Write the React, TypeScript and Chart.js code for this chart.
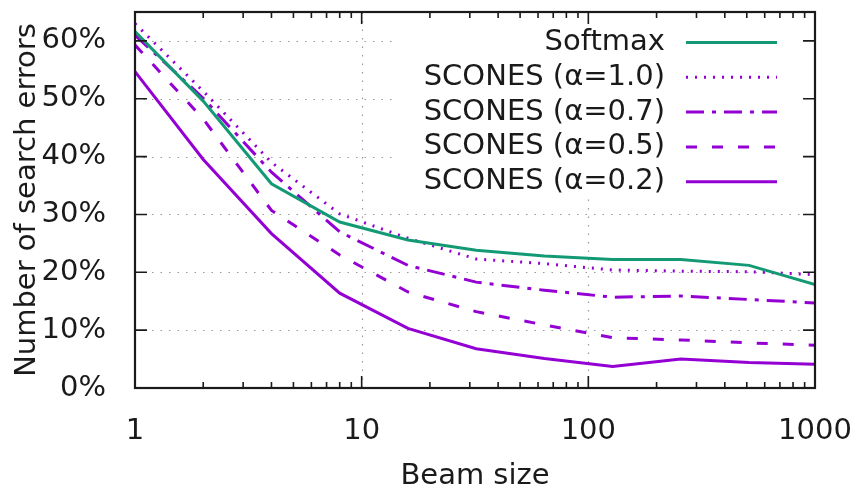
import React, { useEffect, useRef } from 'react';
import { Chart, registerables } from 'chart.js';

Chart.register(...registerables);

// ---- data ----
const BEAM_SIZES = [1, 2, 4, 8, 16, 32, 64, 128, 256, 512, 1000];
const SOFTMAX = [61.6, 49.6, 35.3, 28.7, 25.6, 23.8, 22.8, 22.2, 22.2, 21.2, 17.9];
const SCONES_A10 = [63.0, 51.3, 39.0, 30.1, 25.9, 22.3, 21.5, 20.4, 20.2, 20.1, 19.6];
const SCONES_A07 = [61.0, 50.1, 37.3, 27.0, 21.2, 18.3, 16.9, 15.7, 15.9, 15.3, 14.7];
const SCONES_A05 = [59.3, 46.5, 30.7, 23.0, 16.6, 13.2, 10.9, 8.7, 8.3, 7.8, 7.4];
const SCONES_A02 = [54.7, 39.5, 26.7, 16.4, 10.3, 6.8, 5.1, 3.7, 5.0, 4.4, 4.1];
const SERIES_LABELS = ['Softmax', 'SCONES (α=1.0)', 'SCONES (α=0.7)', 'SCONES (α=0.5)', 'SCONES (α=0.2)'];
const SERIES_VALUES = [SOFTMAX, SCONES_A10, SCONES_A07, SCONES_A05, SCONES_A02];
const X_TICKS = [1, 10, 100, 1000];
const Y_TICKS = [0, 10, 20, 30, 40, 50, 60];
const X_TITLE = 'Beam size';
const Y_TITLE = 'Number of search errors';

// ---- styles ----
const GREEN = '#139a74';
const PURPLE = '#9400d3';
const SERIES_STYLES = [
  { color: GREEN, dash: [] as number[] },
  { color: PURPLE, dash: [2, 7] },
  { color: PURPLE, dash: [18, 8, 4, 8] },
  { color: PURPLE, dash: [11, 15] },
  { color: PURPLE, dash: [] as number[] },
];
const FONT = "'DejaVu Sans', sans-serif";
const TEXT = '#1a1a1a';
const X_MIN = 1, X_MAX = 1000, Y_MIN = 0, Y_MAX = 65;
const LEGEND = { textRight: 665, lineStart: 686, lineEnd: 777, firstY: 42.5, step: 34.8, boxLeft: 397, boxBottom: 197 };

const framePlugin = {
  id: 'gnuFrame',
  beforeDatasetsDraw(chart: any) {
    const { ctx, chartArea: a, scales } = chart;
    const x = scales.x, y = scales.y;
    ctx.save();
    ctx.strokeStyle = '#9a9a9a';
    ctx.lineWidth = 1.2;
    ctx.setLineDash([1.5, 7]);
    ctx.beginPath();
    Y_TICKS.forEach((v) => {
      if (v <= Y_MIN) return;
      const py = Math.round(y.getPixelForValue(v)) + 0.5;
      ctx.moveTo(a.left, py);
      ctx.lineTo(a.right, py);
    });
    X_TICKS.forEach((v) => {
      if (v <= X_MIN || v >= X_MAX) return;
      const px = Math.round(x.getPixelForValue(v)) + 0.5;
      ctx.moveTo(px, a.bottom);
      ctx.lineTo(px, a.top);
    });
    ctx.stroke();
    ctx.setLineDash([]);
    ctx.fillStyle = '#ffffff';
    ctx.fillRect(LEGEND.boxLeft, a.top, a.right - LEGEND.boxLeft, LEGEND.boxBottom - a.top);
    ctx.restore();
  },
  afterDatasetsDraw(chart: any) {
    const { ctx, chartArea: a, scales } = chart;
    const x = scales.x, y = scales.y;
    ctx.save();
    ctx.strokeStyle = TEXT;
    ctx.lineWidth = 1.6;
    ctx.beginPath();
    const major = 12, minor = 6;
    Y_TICKS.forEach((v) => {
      const py = y.getPixelForValue(v);
      ctx.moveTo(a.left, py); ctx.lineTo(a.left + major, py);
      ctx.moveTo(a.right, py); ctx.lineTo(a.right - major, py);
    });
    X_TICKS.forEach((v) => {
      const px = x.getPixelForValue(v);
      ctx.moveTo(px, a.bottom); ctx.lineTo(px, a.bottom - major);
      ctx.moveTo(px, a.top); ctx.lineTo(px, a.top + major);
    });
    for (let d = X_MIN; d < X_MAX; d *= 10) {
      for (let m = 2; m <= 9; m++) {
        const px = x.getPixelForValue(d * m);
        ctx.moveTo(px, a.bottom); ctx.lineTo(px, a.bottom - minor);
        ctx.moveTo(px, a.top); ctx.lineTo(px, a.top + minor);
      }
    }
    ctx.stroke();
    ctx.lineWidth = 2.2;
    ctx.strokeRect(a.left, a.top, a.right - a.left, a.bottom - a.top);
    ctx.restore();
  },
  afterDraw(chart: any) {
    const { ctx } = chart;
    ctx.save();
    ctx.font = `29px ${FONT}`;
    ctx.fillStyle = TEXT;
    ctx.textAlign = 'right';
    ctx.textBaseline = 'middle';
    SERIES_LABELS.forEach((label, i) => {
      const yy = LEGEND.firstY + i * LEGEND.step;
      ctx.fillText(label, LEGEND.textRight, yy);
      const st = SERIES_STYLES[i];
      ctx.strokeStyle = st.color;
      ctx.lineWidth = 3;
      ctx.setLineDash(st.dash);
      ctx.beginPath();
      ctx.moveTo(LEGEND.lineStart, yy);
      ctx.lineTo(LEGEND.lineEnd, yy);
      ctx.stroke();
    });
    ctx.restore();
  },
};

export default function App() {
  const ref = useRef<HTMLCanvasElement | null>(null);
  useEffect(() => {
    const canvas = ref.current;
    if (!canvas) return;
    const chart = new Chart(canvas, {
      type: 'line',
      data: {
        datasets: SERIES_LABELS.map((label, i) => ({
          label,
          data: BEAM_SIZES.map((b, j) => ({ x: b, y: SERIES_VALUES[i][j] })),
          borderColor: SERIES_STYLES[i].color,
          backgroundColor: SERIES_STYLES[i].color,
          borderDash: SERIES_STYLES[i].dash,
          borderWidth: 3,
          pointRadius: 0,
          tension: 0,
          fill: false,
        })),
      },
      options: {
        animation: false,
        responsive: false,
        devicePixelRatio: 1,
        layout: { padding: { left: 0, right: 44, top: 12, bottom: 0 } },
        plugins: { legend: { display: false }, tooltip: { enabled: false } },
        scales: {
          x: {
            type: 'logarithmic',
            min: X_MIN,
            max: X_MAX,
            grid: { display: false },
            border: { display: false },
            afterBuildTicks: (s: any) => { s.ticks = X_TICKS.map((v) => ({ value: v })); },
            afterFit: (s: any) => { s.height = 102; s.paddingLeft = 0; s.paddingRight = 0; },
            ticks: {
              autoSkip: false,
              maxRotation: 0,
              padding: 18,
              color: TEXT,
              font: { family: FONT, size: 29 },
              callback: (v: any) => String(v),
            },
            title: {
              display: true,
              text: X_TITLE,
              color: TEXT,
              font: { family: FONT, size: 29, lineHeight: 0.9 },
              padding: { top: 0, bottom: 0 },
            },
          },
          y: {
            type: 'linear',
            min: Y_MIN,
            max: Y_MAX,
            grid: { display: false },
            border: { display: false },
            afterBuildTicks: (s: any) => { s.ticks = Y_TICKS.map((v) => ({ value: v })); },
            afterFit: (s: any) => { s.width = 135; s.paddingTop = 0; s.paddingBottom = 0; },
            ticks: {
              padding: 21,
              color: TEXT,
              font: { family: FONT, size: 29 },
              callback: (v: any) => `${v}%`,
            },
            title: {
              display: true,
              text: Y_TITLE,
              color: TEXT,
              font: { family: FONT, size: 29, lineHeight: 0.9 },
              padding: { top: 14, bottom: 0 },
            },
          },
        },
      },
      plugins: [framePlugin],
    } as any);
    return () => chart.destroy();
  }, []);
  return (
    <div style={{ position: 'absolute', left: 0, top: 0, width: 859, height: 490, background: '#fff' }}>
      <canvas ref={ref} width={859} height={490} style={{ display: 'block' }} />
    </div>
  );
}
